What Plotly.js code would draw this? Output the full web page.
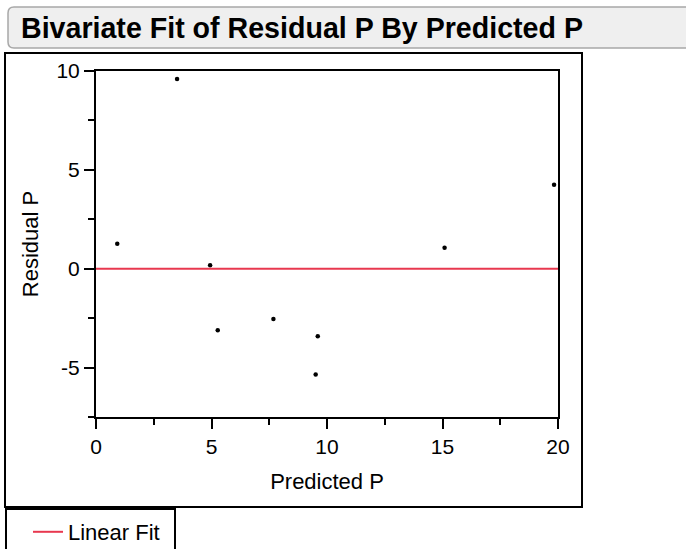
<!DOCTYPE html>
<html><head><meta charset="utf-8">
<script src="https://cdn.plot.ly/plotly-3.0.1.min.js"></script>
<style>html,body{margin:0;padding:0;background:#fff;}#chart{width:686px;height:549px;}</style>
</head><body><div id="chart"></div>
<script>
// ---- data ----
const predictedP = [0.92, 3.51, 4.94, 5.27, 7.68, 9.51, 9.60, 15.09, 19.83];
const residualP  = [1.26, 9.60, 0.18, -3.11, -2.54, -5.35, -3.41, 1.06, 4.25];
const fitIntercept = 0;
const fitSlope = 0;
const fitXRange = [0, 20];
const xTickVals = [0, 5, 10, 15, 20];
const yTickVals = [-5, 0, 5, 10];
const titleText = "Bivariate Fit of Residual P By Predicted P";
const xTitle = "Predicted P";
const yTitle = "Residual P";
const fitName = "Linear Fit";

// ---- layout geometry (pixels) ----
const W = 686, H = 549;
const PL = 96, PR = 558, PT = 71, PB = 417;
const fx = p => (p - PL) / (PR - PL);
const fy = p => (PB - p) / (PB - PT);

const font = "Liberation Sans, Arial, sans-serif";
const red = "#e8384f";

const fitY = fitXRange.map(x => fitIntercept + fitSlope * x);

const traces = [
  {x: predictedP, y: residualP, type: "scatter", mode: "markers",
   marker: {color: "#000", size: 4.5}, showlegend: false, hoverinfo: "x+y"},
  {x: fitXRange, y: fitY, type: "scatter", mode: "lines", name: fitName,
   line: {color: red, width: 2}, showlegend: true}
];

function roundRect(x0, y0, x1, y1, r) {
  const X = v => fx(v), Y = v => fy(v);
  return `M${X(x0+r)},${Y(y0)} L${X(x1-r)},${Y(y0)} Q${X(x1)},${Y(y0)} ${X(x1)},${Y(y0+r)} ` +
         `L${X(x1)},${Y(y1-r)} Q${X(x1)},${Y(y1)} ${X(x1-r)},${Y(y1)} L${X(x0+r)},${Y(y1)} ` +
         `Q${X(x0)},${Y(y1)} ${X(x0)},${Y(y1-r)} L${X(x0)},${Y(y0+r)} Q${X(x0)},${Y(y0)} ${X(x0+r)},${Y(y0)} Z`;
}

const axisCommon = {
  showgrid: false, zeroline: false, showline: true, mirror: true,
  linecolor: "#000", linewidth: 2, ticks: "outside", ticklen: 10, tickwidth: 1.5,
  tickcolor: "#000", tickfont: {family: font, size: 21, color: "#000"},
  minor: {ticks: "outside", ticklen: 6, tickwidth: 1.5, tickcolor: "#000", showgrid: false},
  fixedrange: true, automargin: false
};

const layout = {
  width: W, height: H,
  margin: {l: PL, r: W - PR, t: PT, b: H - PB, pad: 0, autoexpand: false},
  paper_bgcolor: "#fff", plot_bgcolor: "#fff",
  title: {text: "<b>" + titleText + "</b>", xref: "container", yref: "container",
          x: 21 / W, xanchor: "left", y: 1 - 28 / H, yanchor: "middle",
          font: {family: font, size: 28.6, color: "#000"}},
  xaxis: Object.assign({}, axisCommon, {
    range: [0, 20], tickvals: xTickVals, ticktext: xTickVals.map(String),
    minor: Object.assign({}, axisCommon.minor, {dtick: 2.5, tick0: 0}),
    title: {text: xTitle, font: {family: font, size: 22, color: "#000"}, standoff: 16}
  }),
  yaxis: Object.assign({}, axisCommon, {
    range: [-7.5, 10], tickvals: yTickVals, ticktext: yTickVals.map(String),
    minor: Object.assign({}, axisCommon.minor, {dtick: 2.5, tick0: 0}),
    title: {text: yTitle, font: {family: font, size: 22, color: "#000"}, standoff: 12}
  }),
  showlegend: true,
  legend: {x: fx(28), xanchor: "left", y: fy(532), yanchor: "middle",
           bgcolor: "rgba(0,0,0,0)", borderwidth: 0,
           font: {family: font, size: 22, color: "#000"}},
  shapes: [
    {type: "path", xref: "paper", yref: "paper", path: roundRect(8, 7, 720, 48, 6),
     fillcolor: "#efefef", line: {color: "#a8a8a8", width: 1.5}, layer: "below"},
    {type: "rect", xref: "paper", yref: "paper", x0: fx(5), x1: fx(582), y0: fy(53), y1: fy(507),
     line: {color: "#000", width: 2}, layer: "below"},
    {type: "rect", xref: "paper", yref: "paper", x0: fx(6), x1: fx(175), y0: fy(509), y1: fy(580),
     line: {color: "#000", width: 2}, layer: "below"}
  ],
  hovermode: "closest"
};

Plotly.newPlot("chart", traces, layout, {displayModeBar: false});
</script>
</body></html>
